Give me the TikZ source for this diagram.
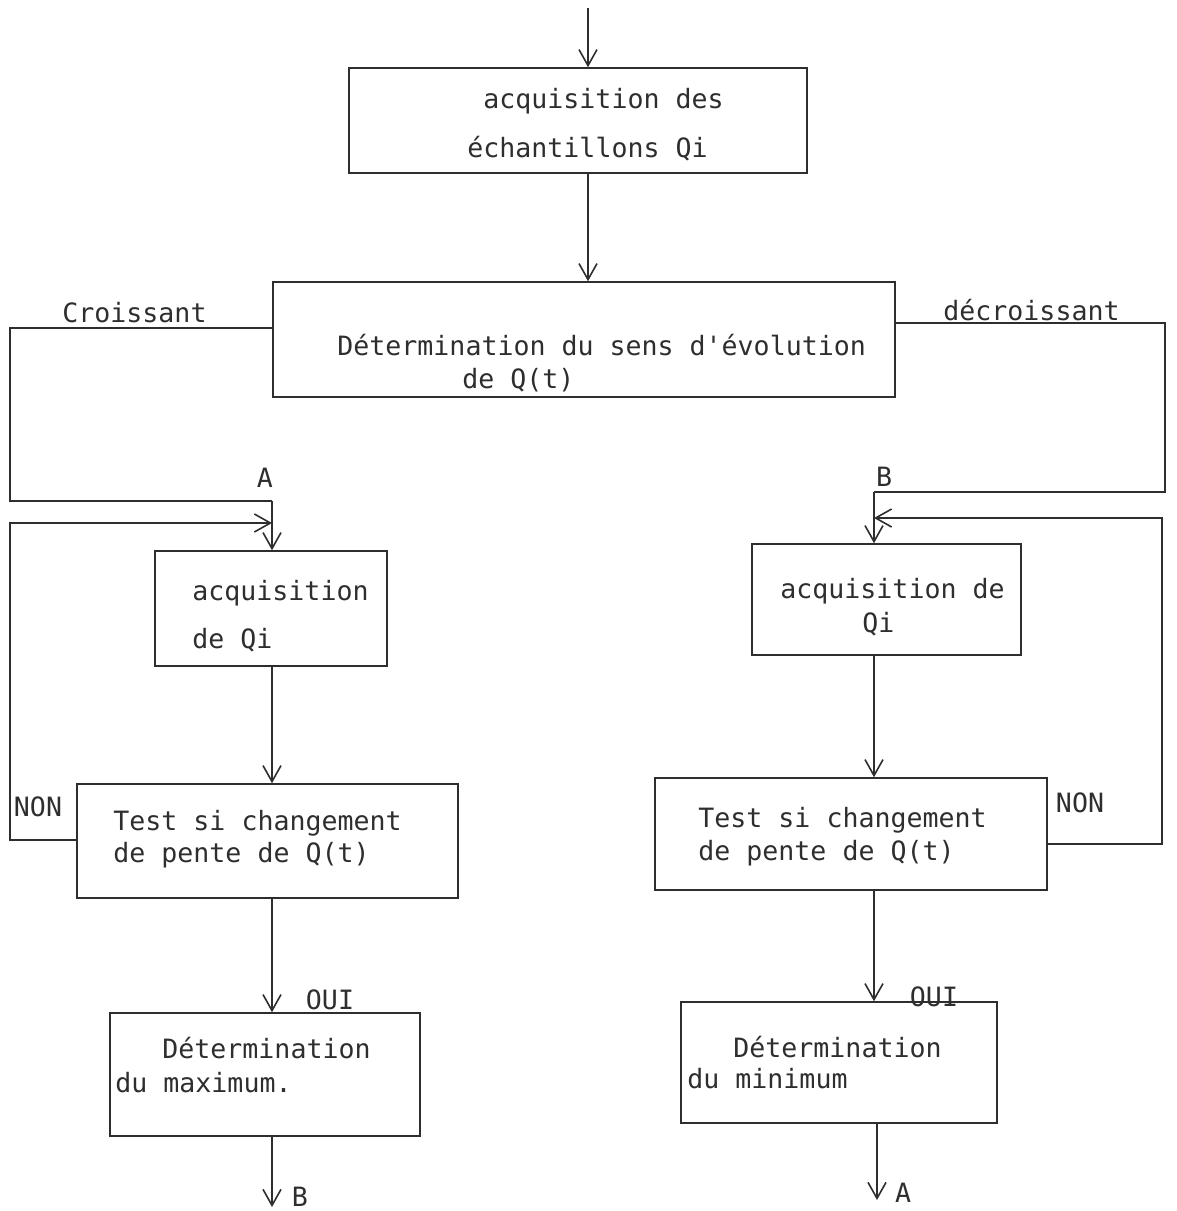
\documentclass[tikz,border=0pt]{standalone}
\usepackage{fontspec}
\setmonofont{DejaVu Sans Mono}
\usetikzlibrary{arrows.meta}
\definecolor{ink}{gray}{0.18}
\begin{document}
\begin{tikzpicture}[x=0.5pt,y=-0.5pt,
  line/.style={draw=ink, line width=0.8pt},
  arr/.style={line, -{Straight Barb[length=8pt,width=9pt]}},
  box/.style={draw=ink, line width=0.8pt, rectangle, inner sep=0pt},
  txt/.style={anchor=base west, inner sep=0pt, text=ink, font=\ttfamily\fontsize{13.3pt}{16pt}\selectfont},
  lbl/.style={inner sep=0pt, text=ink, font=\ttfamily\fontsize{13.3pt}{16pt}\selectfont}]
\useasboundingbox (0,0) rectangle (1177,1211);

% boxes
\node[box, minimum width=229pt,   minimum height=52.5pt] (b1)  at (578,120.5) {};
\node[box, minimum width=311pt,   minimum height=57.5pt] (b2)  at (584,339.5) {};
\node[box, minimum width=116pt,   minimum height=57.5pt] (b3)  at (271,608.5) {};
\node[box, minimum width=190.5pt, minimum height=57pt]   (b4)  at (267.5,841) {};
\node[box, minimum width=155pt,   minimum height=61.5pt] (b5)  at (265,1074.5) {};
\node[box, minimum width=134.5pt, minimum height=55.5pt] (b3r) at (886.5,599.5) {};
\node[box, minimum width=196pt,   minimum height=56pt]   (b4r) at (851,834) {};
\node[box, minimum width=158pt,   minimum height=60.5pt] (b5r) at (839,1062.5) {};

% box texts
\node[txt] (t1a) at (483,108) {acquisition des};
\node[txt] (t1b) at (467,157) {échantillons Qi};
\node[txt] (t2a) at (337,355) {Détermination du sens d'évolution};
\node[txt] (t2b) at (462,388) {de Q(t)};
\node[txt] (t3a) at (192,600) {acquisition};
\node[txt] (t3b) at (192,648) {de Qi};
\node[txt] (t4a) at (113,830) {Test si changement};
\node[txt] (t4b) at (113,862) {de pente de Q(t)};
\node[txt] (t5a) at (162,1058) {Détermination};
\node[txt] (t5b) at (115,1092) {du maximum.};
\node[txt] (t3ra) at (780,598) {acquisition de};
\node[txt] (t3rb) at (862,632) {Qi};
\node[txt] (t4ra) at (698,827) {Test si changement};
\node[txt] (t4rb) at (698,860) {de pente de Q(t)};
\node[txt] (t5ra) at (733,1057) {Détermination};
\node[txt] (t5rb) at (687,1088) {du minimum};

% labels
\node[txt] (lcro) at (62,322) {Croissant};
\node[txt] (ldec) at (943,320) {décroissant};
\node[lbl] (lA)   at (265,478) {A};
\node[lbl] (lB)   at (884,477) {B};
\node[lbl] (lnonl) at (38,807) {NON};
\node[lbl] (lnonr) at (1080,803) {NON};
\node[lbl] (louil) at (330,1000) {OUI};
\node[lbl] (louir) at (934,997) {OUI};
\node[lbl] (lBb)  at (300,1197) {B};
\node[lbl] (lAb)  at (903,1193) {A};

% helper coordinates
\coordinate (top) at (588,8);
\coordinate (cl) at (272,0);
\coordinate (cr) at (874,0);
\coordinate (lA1) at (10,328);
\coordinate (lA2) at (10,501);
\coordinate (lN1) at (10,840);
\coordinate (lN2) at (10,523);
\coordinate (rB1) at (1165,323);
\coordinate (rB2) at (1165,492);
\coordinate (rN1) at (1162,844);
\coordinate (rN2) at (1162,518);
\coordinate (endB) at (272,1207);
\coordinate (endA) at (877,1200);

% main flow
\draw[arr] (top) -- (top |- b1.north);
\draw[arr] (b1.south -| top) -- (b2.north -| top);

% left branch
\draw[line] (b2.west |- lA1) -- (lA1) -- (lA2) -- (lA2 -| cl);
\draw[arr] (lA2 -| cl) -- (b3.north -| cl);
\draw[arr] (b4.west |- lN1) -- (lN1) -- (lN2) -- (lN2 -| cl);
\draw[arr] (b3.south -| cl) -- (b4.north -| cl);
\draw[arr] (b4.south -| cl) -- (b5.north -| cl);
\draw[arr] (b5.south -| cl) -- (endB);

% right branch
\draw[line] (b2.east |- rB1) -- (rB1) -- (rB2) -- (rB2 -| cr);
\draw[arr] (rB2 -| cr) -- (b3r.north -| cr);
\draw[arr] (b4r.east |- rN1) -- (rN1) -- (rN2) -- (rN2 -| cr);
\draw[arr] (b3r.south -| cr) -- (b4r.north -| cr);
\draw[arr] (b4r.south -| cr) -- (b5r.north -| cr);
\draw[arr] (b5r.south -| endA) -- (endA);
\end{tikzpicture}
\end{document}
